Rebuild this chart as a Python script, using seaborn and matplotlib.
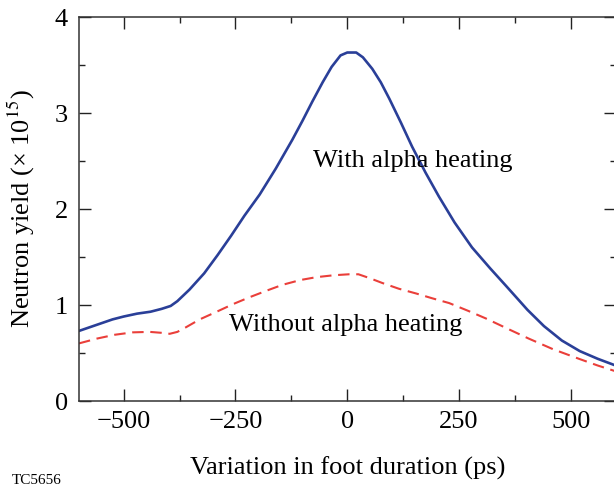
import matplotlib
matplotlib.use("Agg")
import matplotlib.pyplot as plt
from matplotlib.ticker import MultipleLocator
import seaborn as sns
import pandas as pd

# Data
x_with = [-600, -575, -550, -525, -500, -470, -440, -415, -395, -380, -353, -320, -290, -260, -230,
          -196, -160, -123, -100, -78, -55, -35, -15, 0, 20, 35, 56, 75, 94, 120, 145, 175, 205,
          240, 279, 320, 355, 380, 403, 440, 480, 520, 560, 600]
y_with = [0.73, 0.77, 0.81, 0.85, 0.88, 0.91, 0.93, 0.96, 0.99, 1.04, 1.16, 1.33, 1.52, 1.72, 1.93,
          2.15, 2.42, 2.72, 2.92, 3.12, 3.32, 3.48, 3.60, 3.63, 3.63, 3.58, 3.46, 3.32, 3.15, 2.90,
          2.65, 2.38, 2.13, 1.86, 1.60, 1.38, 1.20, 1.07, 0.95, 0.78, 0.63, 0.52, 0.44, 0.37]

x_without = [-600, -560, -520, -480, -442, -415, -397, -380, -360, -330, -292, -255, -219, -180,
             -145, -105, -69, -30, 4, 25, 50, 78, 115, 154, 190, 228, 270, 310, 360, 406, 460,
             518, 560, 600]
y_without = [0.60, 0.65, 0.69, 0.715, 0.72, 0.71, 0.70, 0.72, 0.77, 0.85, 0.93, 1.01, 1.08, 1.15,
             1.21, 1.26, 1.29, 1.31, 1.32, 1.32, 1.28, 1.23, 1.17, 1.12, 1.07, 1.02, 0.94, 0.86,
             0.75, 0.65, 0.54, 0.44, 0.37, 0.31]

label_with = "With alpha heating"
label_without = "Without alpha heating"

sns.set_theme(style="ticks")
plt.rcParams['font.family'] = ['Liberation Serif', 'DejaVu Serif']
plt.rcParams['mathtext.fontset'] = 'stix'

fig = plt.figure(figsize=(6.14, 4.87), dpi=100)
ax = fig.add_axes([79/614, 1 - 401/487, (615.5 - 79)/614, (401 - 17)/487])

df_with = pd.DataFrame({"x": x_with, "y": y_with})
df_without = pd.DataFrame({"x": x_without, "y": y_without})

sns.lineplot(data=df_with, x="x", y="y", ax=ax, color="#2a3f98", linewidth=1.9, sort=False)
sns.lineplot(data=df_without, x="x", y="y", ax=ax, color="#ea3f3a", linewidth=1.5, sort=False)
ax.lines[1].set_dashes((5.5, 3.2))

ax.set_xlim(-600, 600)
ax.set_ylim(0, 4)
ax.xaxis.set_minor_locator(MultipleLocator(125))
ax.yaxis.set_major_locator(MultipleLocator(1))
ax.yaxis.set_minor_locator(MultipleLocator(0.5))
ax.set_xticks([-500, -250, 0, 250, 500])
ax.set_xticklabels(["\u2212500", "\u2212250", "0", "250", "500"])
ax.tick_params(which="both", direction="in", top=True, right=True, colors="#222222",
               labelsize=19, width=1.0, labelcolor="black")
ax.tick_params(which="major", length=8.5)
ax.tick_params(axis="x", which="major", pad=7)
ax.tick_params(axis="y", which="major", pad=8)
ax.tick_params(which="minor", length=4.3)
for s in ax.spines.values():
    s.set_color("#333333")
    s.set_linewidth(1.1)

ax.set_xlabel("Variation in foot duration (ps)", fontsize=19, labelpad=17, color="black")
ax.set_ylabel("Neutron yield (\u00d7 10$^{15}$)", fontsize=19, labelpad=13, color="black")

ax.text(147, 2.50, label_with, fontsize=19, ha="center", va="center", color="black")
ax.text(-4, 0.79, label_without, fontsize=19, ha="center", va="center", color="black")
fig.text(12/614, 1 - 480/487, "TC5656", fontsize=11, ha="left", va="center", color="black")

fig.savefig("out.png", dpi=100)
